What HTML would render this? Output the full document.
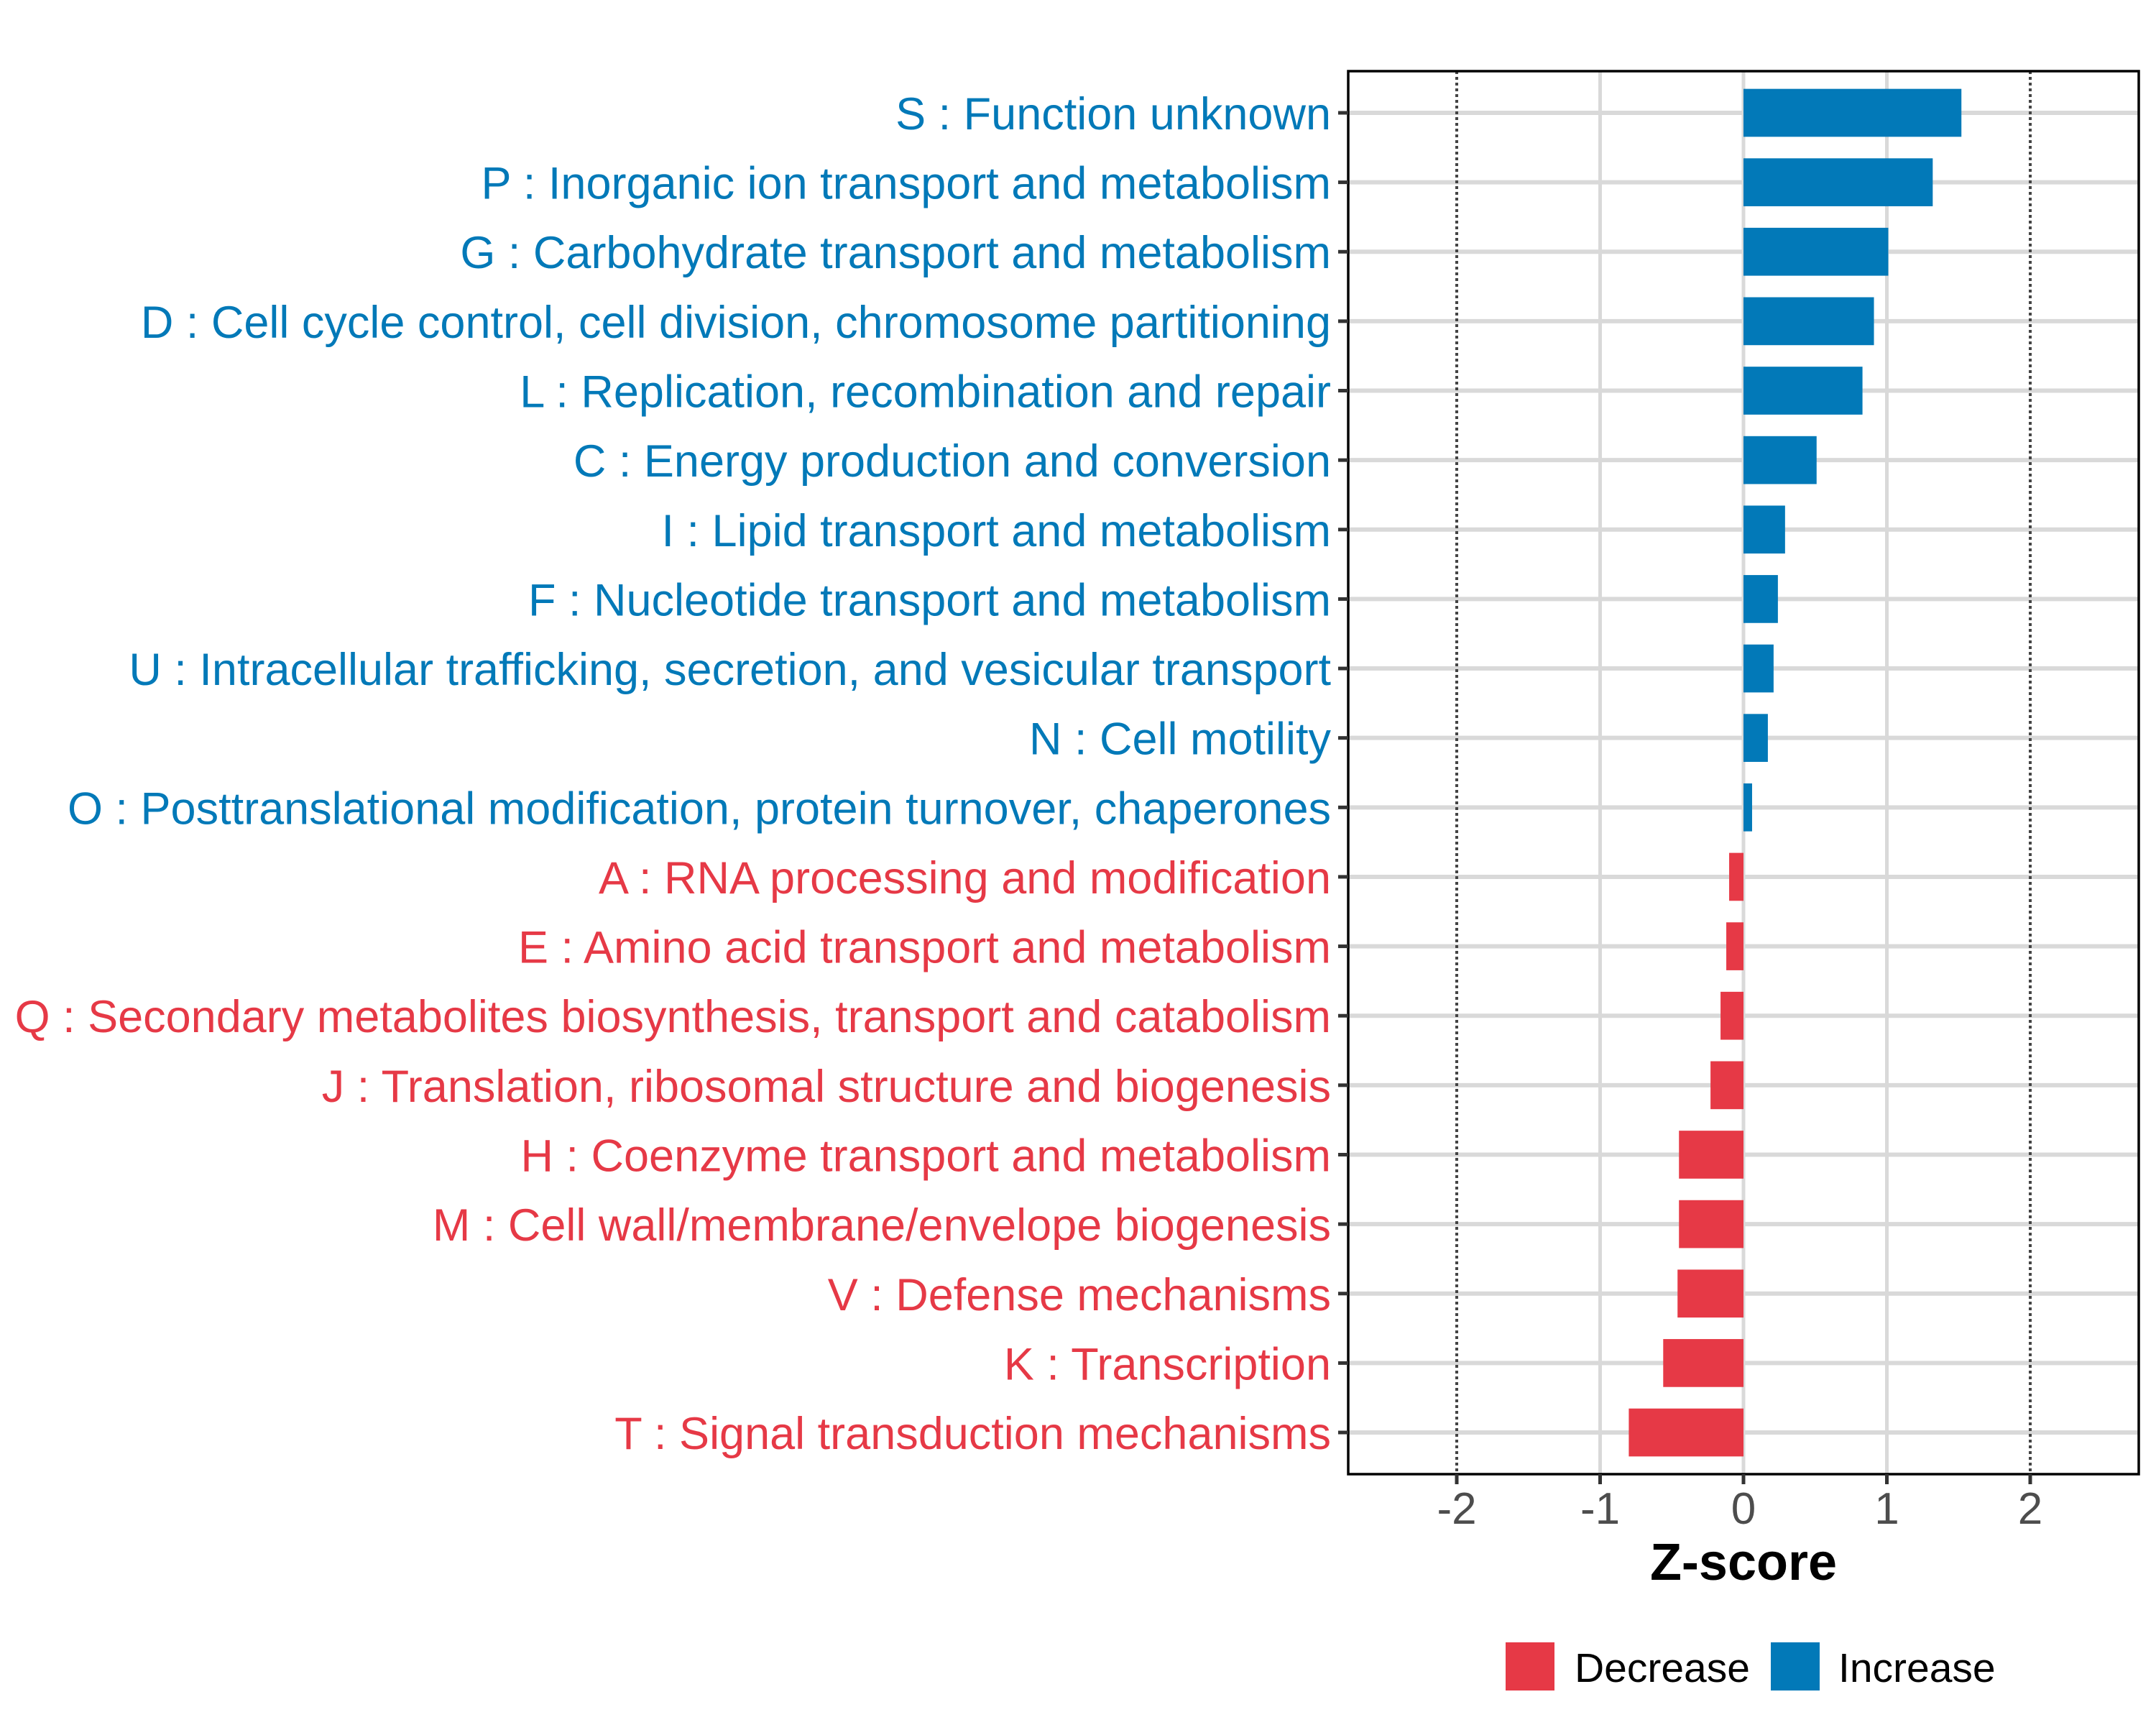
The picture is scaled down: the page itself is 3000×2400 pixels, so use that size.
<!DOCTYPE html>
<html><head><meta charset="utf-8"><style>
html,body{margin:0;padding:0;background:#fff}
svg{display:block;font-family:"Liberation Sans",Arial,sans-serif}
</style></head><body>
<svg id="chart" width="3000" height="2400" viewBox="0 0 3000 2400" xmlns="http://www.w3.org/2000/svg">
<rect x="0" y="0" width="3000" height="2400" fill="#fff"/>
<g id="grid"></g>
<g id="bars"></g>
<rect x="1876" y="99" width="1100" height="1952" fill="none" stroke="#000" stroke-width="3.5"/>
<g id="yaxis"></g>
<g id="xaxis"></g>
<text x="2426" y="2198" font-size="72" font-weight="bold" text-anchor="middle" fill="#000">Z-score</text>
<g>
<rect x="2095" y="2285" width="68" height="67" fill="#E63946"/>
<text x="2191" y="2340" font-size="57" fill="#000">Decrease</text>
<rect x="2464" y="2285" width="68" height="67" fill="#0279B8"/>
<text x="2558" y="2340" font-size="57" fill="#000">Increase</text>
</g>
</svg>
<script>
const categories = [
"S : Function unknown",
"P : Inorganic ion transport and metabolism",
"G : Carbohydrate transport and metabolism",
"D : Cell cycle control, cell division, chromosome partitioning",
"L : Replication, recombination and repair",
"C : Energy production and conversion",
"I : Lipid transport and metabolism",
"F : Nucleotide transport and metabolism",
"U : Intracellular trafficking, secretion, and vesicular transport",
"N : Cell motility",
"O : Posttranslational modification, protein turnover, chaperones",
"A : RNA processing and modification",
"E : Amino acid transport and metabolism",
"Q : Secondary metabolites biosynthesis, transport and catabolism",
"J : Translation, ribosomal structure and biogenesis",
"H : Coenzyme transport and metabolism",
"M : Cell wall/membrane/envelope biogenesis",
"V : Defense mechanisms",
"K : Transcription",
"T : Signal transduction mechanisms"];
const zscores = [1.52,1.32,1.01,0.91,0.83,0.51,0.29,0.24,0.21,0.17,0.06,-0.10,-0.12,-0.16,-0.23,-0.45,-0.45,-0.46,-0.56,-0.80];
const xTicks = [-2,-1,0,1,2];
const xTickLabels = ["-2","-1","0","1","2"];

const NS="http://www.w3.org/2000/svg";
const L=1876,R=2976,T=99,B=2051;
const xmin=-2.757,xmax=2.757;
const x=v=>L+(v-xmin)/(xmax-xmin)*(R-L);
const step=(B-T)/(categories.length-1+1.2);
const y=i=>T+step*(0.6+i);
const bh=step*0.69;
const BLUE="#0279B8",RED="#E63946";
function mk(tag,attrs,parent){const e=document.createElementNS(NS,tag);for(const k in attrs)e.setAttribute(k,attrs[k]);parent.appendChild(e);return e;}
const grid=document.getElementById('grid'),bars=document.getElementById('bars'),ya=document.getElementById('yaxis'),xa=document.getElementById('xaxis');
categories.forEach((c,i)=>{
  const g=mk('line',{x1:L,x2:R,y1:y(i),y2:y(i),stroke:'#D9D9D9','stroke-width':6},grid);
  
  
});
xTicks.forEach(v=>{
  const dotted=Math.abs(v)===2;
  const g=mk('line',{x1:x(v),x2:x(v),y1:T,y2:B,stroke:dotted?'#444':'#D9D9D9','stroke-width':dotted?4:5},grid);
  if(dotted)g.setAttribute('stroke-dasharray','4 4');
  
  
});
zscores.forEach((v,i)=>{
  const col=v>=0?BLUE:RED;
  const r=mk('rect',{x:Math.min(x(0),x(v)),y:y(i)-bh/2,width:Math.abs(x(v)-x(0)),height:bh,fill:col},bars);
  
  
  const t=mk('line',{x1:L-14,x2:L,y1:y(i),y2:y(i),stroke:'#333','stroke-width':5},ya);
  
  
  const lb=mk('text',{x:L-24,y:y(i)+23,'font-size':63,'text-anchor':'end',fill:col},ya);
  lb.textContent=categories[i];
  
  
});
xTicks.forEach((v,i)=>{
  const t=mk('line',{x1:x(v),x2:x(v),y1:B,y2:B+14,stroke:'#333','stroke-width':5},xa);
  
  
  const lb=mk('text',{x:x(v),y:2120,'font-size':62,'text-anchor':'middle',fill:'#4D4D4D'},xa);
  lb.textContent=xTickLabels[i];
  
  
});
</script>
</body></html>
